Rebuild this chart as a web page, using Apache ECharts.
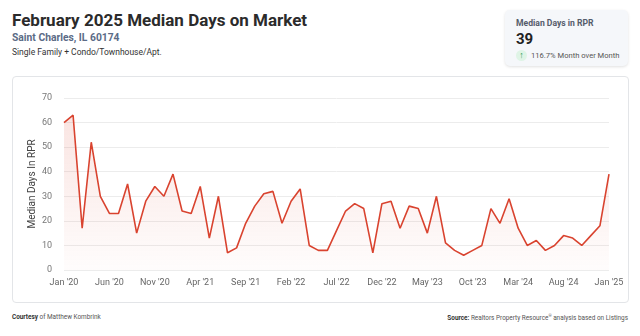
<!DOCTYPE html>
<html>
<head>
<meta charset="utf-8">
<script src="https://cdn.jsdelivr.net/npm/echarts@6/dist/echarts.min.js"></script>
<style>
  html, body { margin: 0; padding: 0; background: #fff; }
  body { width: 640px; height: 336px; position: relative; overflow: hidden; font-family: Roboto, "Noto Sans", sans-serif; }
  .title { position: absolute; left: 12px; top: 10px; font-size: 17px; font-weight: 700; color: #2b2b2b; }
  .sub { position: absolute; left: 12px; top: 31px; font-size: 10.3px; font-weight: 700; color: #5b6b86; }
  .type { position: absolute; left: 12px; top: 47px; font-size: 8.5px; color: #333; }
  .card { position: absolute; left: 505px; top: 10px; width: 123px; height: 56px; background: #f5f7fa; border-radius: 5px; box-shadow: 0 1px 3px rgba(0,0,0,0.12); }
  .card .lbl { position: absolute; left: 11px; top: 8px; font-size: 8.6px; font-weight: 700; color: #555c6b; }
  .card .val { position: absolute; left: 11px; top: 20px; font-size: 15px; font-weight: 700; color: #222; }
  .card .chg { position: absolute; left: 11px; top: 40px; font-size: 7.6px; color: #555; display: flex; align-items: center; }
  .card .arr { width: 11px; height: 11px; border-radius: 50%; background: #dff4e6; color: #2e9b55; font-size: 9px; line-height: 11px; text-align: center; margin-right: 4px; font-weight: 700; }
  .box { position: absolute; left: 12px; top: 76px; width: 615px; height: 225px; border: 1px solid #e3e5e8; border-radius: 4px; }
  #chart { position: absolute; left: 0; top: 0; width: 615px; height: 225px; }
  .foot { position: absolute; top: 313px; font-size: 6.4px; color: #555; }
  .foot b { color: #333; }
</style>
</head>
<body>
<div class="title">February 2025 Median Days on Market</div>
<div class="sub">Saint Charles, IL 60174</div>
<div class="type">Single Family + Condo/Townhouse/Apt.</div>
<div class="card">
  <div class="lbl">Median Days in RPR</div>
  <div class="val">39</div>
  <div class="chg"><span class="arr">&#8593;</span>116.7% Month over Month</div>
</div>
<div class="box"><div id="chart"></div></div>
<div class="foot" style="left:12px;"><b>Courtesy</b> of Matthew Kombrink</div>
<div class="foot" style="right:12px;"><b>Source:</b> Realtors Property Resource<sup style="font-size:4px">®</sup> analysis based on Listings</div>
<script>
// Monthly median days on market, Jan 2020 – Jan 2025
const months = ['Jan','Feb','Mar','Apr','May','Jun','Jul','Aug','Sep','Oct','Nov','Dec'];
const years = ['20','21','22','23','24','25'];
const values2020 = [60, 63, 17, 52, 30, 23, 23, 35, 15, 28, 34, 30];
const values2021 = [39, 24, 23, 34, 13, 30, 7, 9, 19, 26, 31, 32];
const values2022 = [19, 28, 33, 10, 8, 8, 16, 24, 27, 25, 7, 27];
const values2023 = [28, 17, 26, 25, 15, 30, 11, 8, 6, 8, 10, 25];
const values2024 = [19, 29, 17, 10, 12, 8, 10, 14, 13, 10, 14, 18];
const values2025 = [39];

const values = [].concat(values2020, values2021, values2022, values2023, values2024, values2025);
const categories = [];
years.forEach(function (y) {
  months.forEach(function (m) {
    if (categories.length < values.length) categories.push(m + " '" + y);
  });
});

const chart = echarts.init(document.getElementById('chart'));
chart.setOption({
  animation: false,
  grid: { left: 51, right: 19, top: 21, bottom: 32 },
  xAxis: {
    type: 'category',
    data: categories,
    boundaryGap: false,
    axisLine: { show: false },
    axisTick: { show: false },
    axisLabel: { interval: 4, color: '#666', fontSize: 9, margin: 8, fontFamily: 'Roboto' }
  },
  yAxis: {
    type: 'value',
    min: 0, max: 70, interval: 10,
    name: 'Median Days In RPR',
    nameLocation: 'middle',
    nameGap: 27,
    nameMoveOverlap: false,
    nameTextStyle: { color: '#444', fontSize: 10, fontFamily: 'Roboto' },
    axisLabel: { color: '#777', fontSize: 9, margin: 12, fontFamily: 'Roboto' },
    splitLine: { lineStyle: { color: '#ececec' } }
  },
  series: [{
    type: 'line',
    data: values,
    symbol: 'none',
    lineStyle: { color: '#d9432f', width: 1.6 },
    areaStyle: {
      color: new echarts.graphic.LinearGradient(0, 0, 0, 1, [
        { offset: 0, color: 'rgba(217,67,47,0.20)' },
        { offset: 1, color: 'rgba(217,67,47,0.02)' }
      ])
    }
  }]
});
</script>
</body>
</html>
